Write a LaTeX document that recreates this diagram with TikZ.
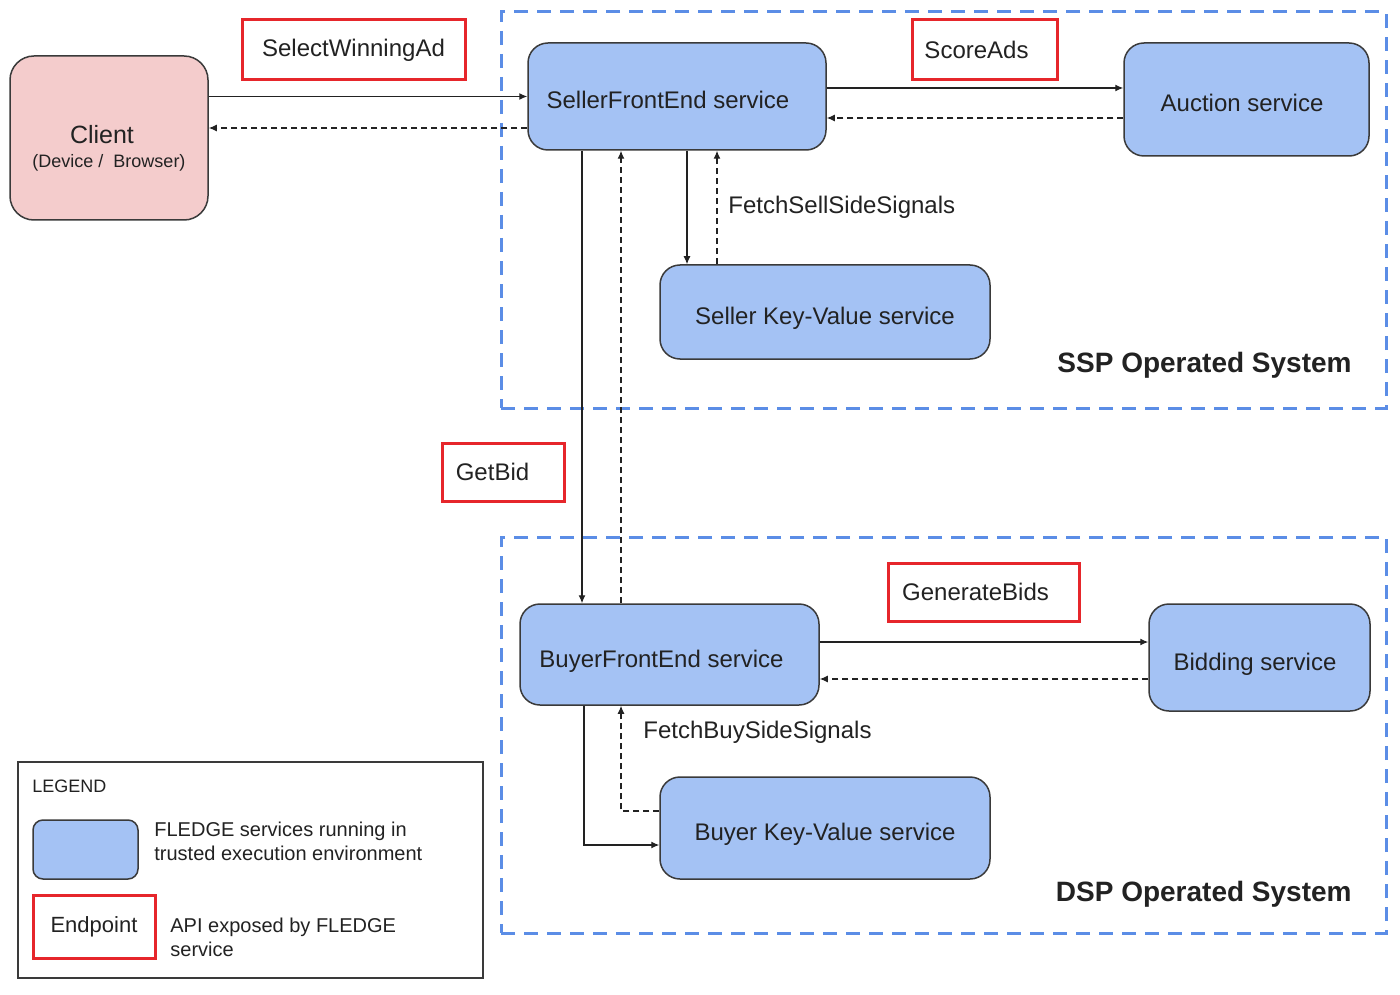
\documentclass[tikz,border=0pt]{standalone}
\usepackage{fontspec}
\setmainfont{Liberation Sans}
\usetikzlibrary{arrows.meta}
\definecolor{tee}{HTML}{A4C2F4}
\definecolor{clientpink}{HTML}{F4CCCC}
\definecolor{zoneblue}{HTML}{5B8DE6}
\definecolor{endred}{HTML}{E6262B}
\definecolor{edge}{HTML}{3A3A3A}
\definecolor{ink}{HTML}{222222}
\tikzset{
	svc/.style={draw=edge, line width=0.75pt, fill=tee, rounded corners=10pt, inner sep=0pt, text height=12.5pt, text depth=0pt},
	api/.style={draw=endred, line width=1.5pt, fill=white, inner sep=0pt},
	zone/.style={draw=zoneblue, line width=1.5pt, dash pattern=on 7pt off 4.5pt, inner sep=0pt},
	call/.style={draw=ink, line width=0.6pt, -{Latex[length=4pt,width=3.5pt]}},
	reply/.style={call, dash pattern=on 3pt off 2pt}
}
\begin{document}
\begin{tikzpicture}[x=0.5pt, y=-0.5pt, font=\fontsize{12}{14}\selectfont, text=ink]
		\path[use as bounding box, fill=white] (0,0) rectangle (1400,994);
		\node[zone, minimum width=442.5pt, minimum height=198pt] (ssp) at (943.5,210) {};
		\node[zone, minimum width=442.5pt, minimum height=198pt] (dsp) at (943.5,735) {};
		\node[svc, fill=clientpink, rounded corners=12pt, minimum width=99pt, minimum height=82pt, label={[yshift=-5pt, align=center]center:{\fontsize{12.5}{15}\selectfont Client\hspace*{7pt}}\\[-2pt]{\fontsize{9}{11}\selectfont(Device /\ \ Browser)}}] (client) at (109,138) {};
		\node[svc, minimum width=149pt, minimum height=53.5pt] (sfe) at (677,96.5) {SellerFrontEnd service\hspace*{9pt}};
		\node[svc, minimum width=122.5pt, minimum height=56.5pt] (auction) at (1246.5,99.5) {Auction service\hspace*{4.5pt}};
		\node[svc, minimum width=165pt, minimum height=47pt] (skv) at (825,312) {Seller Key-Value service};
		\node[svc, minimum width=149.5pt, minimum height=50.5pt] (bfe) at (669.5,654.5) {BuyerFrontEnd service\hspace*{8pt}};
		\node[svc, minimum width=110.5pt, minimum height=53.5pt] (bidding) at (1259.5,657.5) {Bidding service\hspace*{4.5pt}};
		\node[svc, minimum width=165pt, minimum height=51pt] (bkv) at (825,828) {Buyer Key-Value service};
		\node[api, minimum width=111.5pt, minimum height=30pt] (selectad) at (353.5,50) {SelectWinningAd};
		\node[api, minimum width=72.5pt, minimum height=30pt] (scoreads) at (984.5,50) {ScoreAds\hspace*{8pt}};
		\node[api, minimum width=61pt, minimum height=29pt] (getbid) at (503,472) {GetBid\hspace*{10.5pt}};
		\node[api, minimum width=95.5pt, minimum height=29pt] (genbids) at (983.5,592) {GenerateBids\hspace*{8pt}};
		\node[anchor=west, inner sep=0pt] (sellsignals) at (728,207) {FetchSellSideSignals};
		\node[anchor=west, inner sep=0pt] (buysignals) at (643,732) {FetchBuySideSignals};
		\node[anchor=east, inner sep=0pt, font=\fontsize{14}{16}\selectfont\bfseries] (ssplabel) at (1352,365) {SSP Operated System};
		\node[anchor=east, inner sep=0pt, font=\fontsize{14}{16}\selectfont\bfseries] (dsplabel) at (1352,894) {DSP Operated System};
		\node[draw=edge, line width=0.7pt, minimum width=232.5pt, minimum height=108pt, inner sep=0pt] (legend) at (250.5,870) {};
		\node[anchor=west, inner sep=0pt, font=\fontsize{9}{11}\selectfont] (legendtitle) at (32,786) {LEGEND};
		\node[svc, rounded corners=5pt, minimum width=52.5pt, minimum height=29.5pt] (legtee) at (85.5,849.5) {};
		\node[api, font=\fontsize{11}{13}\selectfont, minimum width=61pt, minimum height=31.5pt] (legapi) at (94,926.5) {Endpoint};
		\node[anchor=west, align=left, inner sep=0pt, font=\fontsize{10}{12}\selectfont] (legteetext) at (154,841) {FLEDGE services running in\\trusted execution environment};
		\node[anchor=west, align=left, inner sep=0pt, font=\fontsize{10}{12}\selectfont] (legapitext) at (170,937) {API exposed by FLEDGE\\service};
		\draw[call] (client.east |- sfe.west) -- (sfe.west);
		\draw[reply] ([yshift=-15.75pt]sfe.west) -- ([yshift=-15.75pt]sfe.west -| client.east);
		\draw[call] ([yshift=4.25pt]sfe.east) -- ([yshift=4.25pt]sfe.east -| auction.west);
		\draw[reply] ([yshift=-10.75pt]auction.west |- sfe.east) -- ([yshift=-10.75pt]sfe.east);
		\draw[call] ([xshift=5pt]sfe.south) -- ([xshift=5pt]sfe.south |- skv.north);
		\draw[reply] ([xshift=20pt]sfe.south |- skv.north) -- ([xshift=20pt]sfe.south);
		\draw[call] ([xshift=-47.5pt]sfe.south) -- ([xshift=-47.5pt]sfe.south |- bfe.north);
		\draw[reply] ([xshift=-28pt]sfe.south |- bfe.north) -- ([xshift=-28pt]sfe.south);
		\draw[call] ([yshift=6.25pt]bfe.east) -- ([yshift=6.25pt]bfe.east -| bidding.west);
		\draw[reply] ([yshift=-12.25pt]bidding.west |- bfe.east) -- ([yshift=-12.25pt]bfe.east);
		\draw[call] ([xshift=-42.75pt]bfe.south) |- ([yshift=-8.5pt]bkv.west);
		\draw[reply] ([yshift=8.5pt]bkv.west) -| ([xshift=-24.25pt]bfe.south);
\end{tikzpicture}
\end{document}
